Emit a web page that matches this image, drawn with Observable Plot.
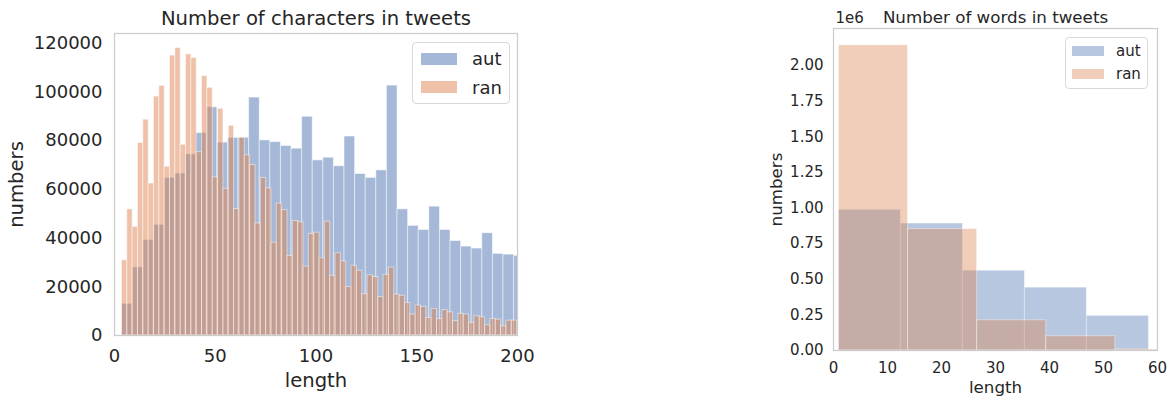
<!DOCTYPE html>
<html>
<head>
<meta charset="utf-8">
<script src="https://cdn.jsdelivr.net/npm/d3@7"></script>
<script src="https://cdn.jsdelivr.net/npm/@observablehq/plot@0.6"></script>
<style>
  body { margin: 0; background: #fff; font-family: "DejaVu Sans", sans-serif; color: #262626; }
  #wrap { position: relative; width: 1169px; height: 398px; overflow: hidden; background: #fff; }
  .panel { position: absolute; top: 0; }
  .legend { position: absolute; border: 1px solid #d9d9d9; border-radius: 4px; background: rgba(255,255,255,0.8); box-sizing: border-box; }
  .legend .patch { position: absolute; }
  .legend .lab { position: absolute; line-height: 1; white-space: nowrap; color: #262626; transform: translateY(-50%); }
</style>
</head>
<body>
<div id="wrap">
  <div id="left" class="panel" style="left:0px"></div>
  <div id="right" class="panel" style="left:700px"></div>
</div>
<script>
// ---------- Data ----------
const seriesNames = ["aut", "ran"];

// Number of characters in tweets (left)
const charBinStart = 3.7;
const autCharBinWidth = 5.26;
const ranCharBinWidth = 2.65;
const autCharCounts = [13000, 28000, 39200, 45400, 64700, 66500, 74400, 83100, 93700, 79200,
  81100, 81200, 97700, 80100, 79400, 77800, 76700, 89800, 71900, 73000,
  69500, 81700, 66300, 64700, 67800, 102600, 51800, 45000, 43300, 52900,
  43300, 38800, 36500, 35700, 42000, 33500, 33200, 32700];
const ranCharCounts = [30900, 51800, 44600, 79000, 88600, 62400, 98100, 102500, 69300, 114900,
  118000, 78300, 115400, 113900, 75300, 106500, 101700, 64900, 93100, 60200,
  86100, 51900, 81200, 74000, 70000, 46000, 64700, 60400, 38100, 54200,
  51500, 32700, 47000, 46500, 28300, 41700, 42200, 31700, 46700, 24500,
  33800, 30400, 19900, 28600, 26600, 17000, 24700, 24000, 15800, 24900,
  27900, 16800, 16300, 13400, 8600, 12300, 11700, 7200, 10900, 6800,
  10400, 9500, 5900, 8900, 8600, 5200, 7900, 7500, 4200, 6800,
  6500, 3800, 6100, 6100];
const charXTicks = [0, 50, 100, 150, 200];
const charYTicks = [0, 20000, 40000, 60000, 80000, 100000, 120000];

// Number of words in tweets (right)
const wordBinStart = 1;
const autWordBinWidth = 11.48;
const ranWordBinWidth = 12.8;
const autWordCounts = [987000, 891000, 560000, 441000, 243000];
const ranWordCounts = [2142000, 852000, 212000, 100000, 8000];
const wordXTicks = [0, 10, 20, 30, 40, 50, 60];
const wordYTicks = [0, 250000, 500000, 750000, 1000000, 1250000, 1500000, 1750000, 2000000];

// ---------- Helpers ----------
const BLUE = "#4C72B0", ORANGE = "#DD8452";
function bins(counts, start, width) {
  return counts.map((c, i) => ({x1: start + i * width, x2: start + (i + 1) * width, y: c}));
}
const label = (txt, opts) => Plot.text([txt], {lineAnchor: "middle", textAnchor: "middle", ...opts});

// ---------- Left panel ----------
const leftPlot = Plot.plot({
  width: 560, height: 398,
  marginLeft: 114, marginRight: 43, marginTop: 33, marginBottom: 63,
  x: {domain: [0, 200]},
  y: {domain: [0, 124000]},
  style: {fontFamily: "DejaVu Sans", fontSize: "18px", color: "#262626", background: "transparent", overflow: "visible"},
  marks: [
    Plot.rectY(bins(autCharCounts, charBinStart, autCharBinWidth), {x1: "x1", x2: "x2", y: "y", fill: BLUE, fillOpacity: 0.5, stroke: "white", strokeOpacity: 0.5, strokeWidth: 1, clip: true}),
    Plot.rectY(bins(ranCharCounts, charBinStart, ranCharBinWidth), {x1: "x1", x2: "x2", y: "y", fill: ORANGE, fillOpacity: 0.5, stroke: "white", strokeOpacity: 0.5, strokeWidth: 1, clip: true}),
    Plot.frame({stroke: "#cccccc", strokeWidth: 1.25}),
    Plot.axisX({ticks: charXTicks, tickSize: 0, tickPadding: 14, label: null, fontSize: 18}),
    Plot.axisY({ticks: charYTicks, tickSize: 0, tickPadding: 12, label: null, fontSize: 18, tickFormat: d => String(d)}),
    label("Number of characters in tweets", {frameAnchor: "top", dy: -15, fontSize: 19.6}),
    label("length", {frameAnchor: "bottom", dy: 45, fontSize: 19.6}),
    label("numbers", {frameAnchor: "left", dx: -98, rotate: -90, fontSize: 19.6})
  ]
});
document.getElementById("left").appendChild(leftPlot);

// ---------- Right panel ----------
const rightPlot = Plot.plot({
  width: 469, height: 398,
  marginLeft: 133, marginRight: 12, marginTop: 28, marginBottom: 48,
  x: {domain: [0, 60]},
  y: {domain: [0, 2260000]},
  style: {fontFamily: "DejaVu Sans", fontSize: "15px", color: "#262626", background: "transparent", overflow: "visible"},
  marks: [
    Plot.rectY(bins(autWordCounts, wordBinStart, autWordBinWidth), {x1: "x1", x2: "x2", y: "y", fill: BLUE, fillOpacity: 0.4, stroke: "white", strokeOpacity: 0.4, strokeWidth: 1, clip: true}),
    Plot.rectY(bins(ranWordCounts, wordBinStart, ranWordBinWidth), {x1: "x1", x2: "x2", y: "y", fill: ORANGE, fillOpacity: 0.4, stroke: "white", strokeOpacity: 0.4, strokeWidth: 1, clip: true}),
    Plot.frame({stroke: "#cccccc", strokeWidth: 1.25}),
    Plot.axisX({ticks: wordXTicks, tickSize: 0, tickPadding: 12, label: null, fontSize: 15}),
    Plot.axisY({ticks: wordYTicks, tickSize: 0, tickPadding: 10, label: null, fontSize: 15, tickFormat: d => (d / 1e6).toFixed(2)}),
    label("1e6", {frameAnchor: "top-left", textAnchor: "start", dx: 2, dy: -10, fontSize: 15}),
    label("Number of words in tweets", {frameAnchor: "top", dy: -11, fontSize: 16.7}),
    label("length", {frameAnchor: "bottom", dy: 37, fontSize: 16.7}),
    label("numbers", {frameAnchor: "left", dx: -57, rotate: -90, fontSize: 16.7})
  ]
});
document.getElementById("right").appendChild(rightPlot);

// ---------- Legends (HTML overlay) ----------
function legend(box, items) {
  const el = document.createElement("div");
  el.className = "legend";
  Object.assign(el.style, {left: box.left + "px", top: box.top + "px", width: box.width + "px", height: box.height + "px"});
  items.forEach(it => {
    const p = document.createElement("div");
    p.className = "patch";
    Object.assign(p.style, {left: it.px + "px", top: it.py + "px", width: it.pw + "px", height: it.ph + "px", background: it.color});
    el.appendChild(p);
    const t = document.createElement("div");
    t.className = "lab";
    t.textContent = it.name;
    Object.assign(t.style, {left: it.tx + "px", top: it.ty + "px", fontSize: it.fs + "px"});
    el.appendChild(t);
  });
  document.getElementById("wrap").appendChild(el);
}
legend({left: 412, top: 42, width: 98, height: 62}, [
  {name: seriesNames[0], color: "rgba(76,114,176,0.5)", px: 8, py: 10, pw: 36, ph: 12, tx: 59, ty: 16, fs: 18},
  {name: seriesNames[1], color: "rgba(221,132,82,0.5)", px: 8, py: 38, pw: 36, ph: 12, tx: 59, ty: 45, fs: 18}
]);
legend({left: 1065, top: 37, width: 83, height: 52}, [
  {name: seriesNames[0], color: "rgba(76,114,176,0.4)", px: 6, py: 8, pw: 32, ph: 10, tx: 50, ty: 13, fs: 15},
  {name: seriesNames[1], color: "rgba(221,132,82,0.4)", px: 6, py: 31, pw: 32, ph: 10, tx: 50, ty: 36, fs: 15}
]);
</script>
</body>
</html>
